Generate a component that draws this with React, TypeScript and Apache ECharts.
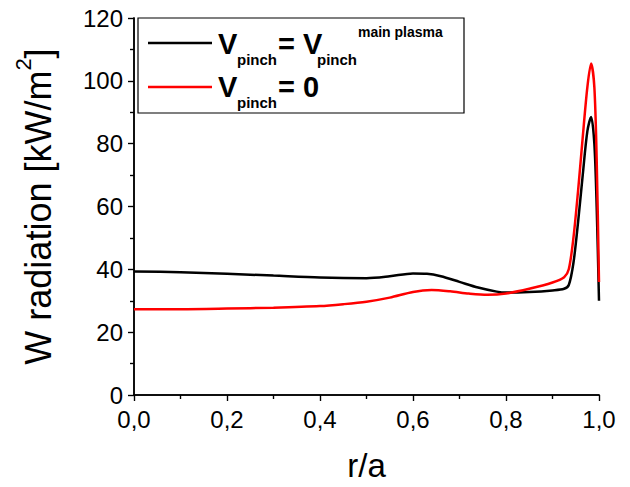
import React, { useEffect, useRef } from "react";
import * as echarts from "echarts";

const rBlack = [0, 0.1, 0.2, 0.3, 0.4, 0.5, 0.55, 0.6, 0.63, 0.66, 0.7, 0.74, 0.78, 0.8, 0.85, 0.9, 0.925, 0.935, 0.945, 0.955, 0.965, 0.975, 0.983, 0.99, 0.995, 1.0];
const vBlack = [39.3, 39.1, 38.6, 38.0, 37.4, 37.2, 37.8, 38.7, 38.6, 37.8, 36.0, 34.2, 32.9, 32.6, 32.8, 33.3, 33.8, 35, 42, 55, 70, 84, 88.5, 80, 60, 30];

const rRed = [0, 0.1, 0.2, 0.3, 0.4, 0.45, 0.5, 0.55, 0.6, 0.64, 0.68, 0.72, 0.76, 0.8, 0.85, 0.9, 0.925, 0.935, 0.945, 0.955, 0.965, 0.975, 0.983, 0.99, 0.995, 1.0];
const vRed = [27.3, 27.3, 27.5, 27.8, 28.3, 28.9, 29.7, 31.0, 32.8, 33.4, 33.0, 32.3, 31.9, 32.3, 33.8, 35.8, 37.5, 40, 50, 65, 82, 98, 105.5, 98, 75, 36];

const xTicks = [0, 0.2, 0.4, 0.6, 0.8, 1.0];
const yTicks = [0, 20, 40, 60, 80, 100, 120];

const FONT = "Liberation Sans, Arial, sans-serif";

export default function App() {
  const ref = useRef<HTMLDivElement>(null);
  useEffect(() => {
    if (!ref.current) return;
    const chart = echarts.init(ref.current, null, { renderer: "svg" });
    const pair = (xs: number[], ys: number[]) => xs.map((x, i) => [x, ys[i]]);
    const axisLine = { show: true, lineStyle: { color: "#000", width: 1.5 } };
    chart.setOption({
      animation: false,
      backgroundColor: "#fff",
      grid: { left: 134, right: 31, top: 18, bottom: 91, containLabel: false },
      xAxis: [
        {
          type: "value",
          min: xTicks[0],
          max: xTicks[xTicks.length - 1],
          interval: 0.2,
          position: "bottom",
          axisLine,
          axisTick: { show: true, inside: false, length: 6, lineStyle: { color: "#000", width: 1.2 } },
          minorTick: { show: true, splitNumber: 2, length: 4, lineStyle: { color: "#000", width: 1.2 } },
          splitLine: { show: false },
          axisLabel: {
            color: "#000",
            fontFamily: FONT,
            fontSize: 24,
            margin: 12,
            formatter: (v: number) => v.toFixed(1).replace(".", ","),
          },
          name: "r/a",
          nameLocation: "middle",
          nameGap: 54,
          nameTextStyle: { color: "#000", fontFamily: FONT, fontSize: 33 },
        },
        {
          type: "value",
          min: 0,
          max: 1,
          interval: 0.2,
          position: "top",
          axisLine,
          axisTick: { show: true, inside: true, length: 6, lineStyle: { color: "#000", width: 1.2 } },
          minorTick: { show: true, splitNumber: 2, length: 4, lineStyle: { color: "#000", width: 1.2 } },
          splitLine: { show: false },
          axisLabel: { show: false },
        },
      ],
      yAxis: [
        {
          type: "value",
          min: yTicks[0],
          max: yTicks[yTicks.length - 1],
          interval: 20,
          position: "left",
          axisLine,
          axisTick: { show: true, inside: false, length: 6, lineStyle: { color: "#000", width: 1.2 } },
          minorTick: { show: true, splitNumber: 2, length: 4, lineStyle: { color: "#000", width: 1.2 } },
          splitLine: { show: false },
          axisLabel: { color: "#000", fontFamily: FONT, fontSize: 24, margin: 11 },
          name: "{a|W radiation [kW/m}{s|2}{a|]}",
          nameLocation: "middle",
          nameGap: 78,
          nameRotate: 90,
          nameTextStyle: {
            color: "#000",
            fontFamily: FONT,
            fontSize: 36,
            rich: {
              a: { fontFamily: FONT, fontSize: 36, color: "#000", verticalAlign: "bottom", lineHeight: 44 },
              s: { fontFamily: FONT, fontSize: 22, color: "#000", verticalAlign: "top", lineHeight: 44 },
            },
          },
        },
        {
          type: "value",
          min: 0,
          max: 120,
          interval: 20,
          position: "right",
          axisLine,
          axisTick: { show: true, inside: true, length: 6, lineStyle: { color: "#000", width: 1.2 } },
          minorTick: { show: true, splitNumber: 2, length: 4, lineStyle: { color: "#000", width: 1.2 } },
          splitLine: { show: false },
          axisLabel: { show: false },
        },
      ],
      series: [
        {
          type: "line",
          name: "Vpinch = Vpinch main plasma",
          data: pair(rBlack, vBlack),
          smooth: 0.3,
          showSymbol: false,
          lineStyle: { color: "#000", width: 2.5 },
          z: 3,
        },
        {
          type: "line",
          name: "Vpinch = 0",
          data: pair(rRed, vRed),
          smooth: 0.3,
          showSymbol: false,
          lineStyle: { color: "#ff0000", width: 2.5 },
          z: 4,
        },
      ],
      graphic: [
        {
          type: "rect",
          shape: { x: 138, y: 18, width: 326, height: 95 },
          style: { fill: "#fff", stroke: "#000", lineWidth: 1.2 },
          z: 10,
        },
        { type: "line", shape: { x1: 148, y1: 43, x2: 212, y2: 43 }, style: { stroke: "#000", lineWidth: 2.5 }, z: 11 },
        { type: "line", shape: { x1: 148, y1: 87, x2: 212, y2: 87 }, style: { stroke: "#ff0000", lineWidth: 2.5 }, z: 11 },
        { type: "text", x: 218, y: 44, style: { text: "V", font: `bold 29px ${FONT}`, fill: "#000", verticalAlign: "middle" }, z: 11 },
        { type: "text", x: 237, y: 59, style: { text: "pinch", font: `bold 15px ${FONT}`, fill: "#000", verticalAlign: "middle" }, z: 11 },
        { type: "text", x: 278, y: 44, style: { text: "= V", font: `bold 29px ${FONT}`, fill: "#000", verticalAlign: "middle" }, z: 11 },
        { type: "text", x: 317, y: 59, style: { text: "pinch", font: `bold 15px ${FONT}`, fill: "#000", verticalAlign: "middle" }, z: 11 },
        { type: "text", x: 358, y: 32, style: { text: "main plasma", font: `bold 14px ${FONT}`, fill: "#000", verticalAlign: "middle" }, z: 11 },
        { type: "text", x: 218, y: 87, style: { text: "V", font: `bold 29px ${FONT}`, fill: "#000", verticalAlign: "middle" }, z: 11 },
        { type: "text", x: 237, y: 102, style: { text: "pinch", font: `bold 15px ${FONT}`, fill: "#000", verticalAlign: "middle" }, z: 11 },
        { type: "text", x: 278, y: 87, style: { text: "= 0", font: `bold 29px ${FONT}`, fill: "#000", verticalAlign: "middle" }, z: 11 },
      ],
    });
    return () => chart.dispose();
  }, []);
  return <div ref={ref} style={{ width: 630, height: 487, position: "absolute", left: 0, top: 0 }} />;
}
